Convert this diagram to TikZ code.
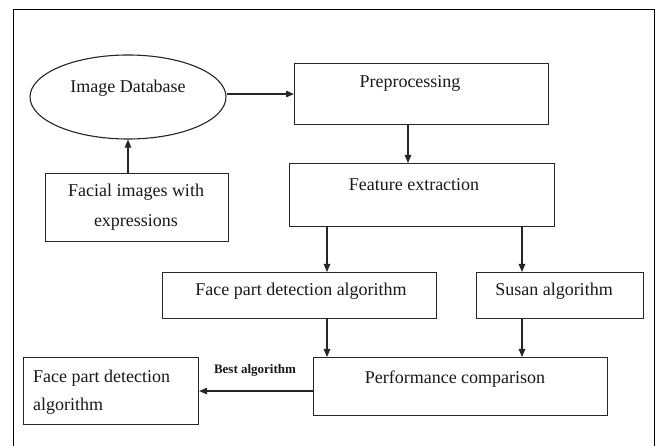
\documentclass[tikz,border=0pt]{standalone}
\usepackage{fontspec}
\setmainfont{Liberation Serif}
\usetikzlibrary{shapes.geometric,arrows.meta,calc}
\begin{document}
\begin{tikzpicture}[x=1pt,y=-1pt,
  box/.style={draw=black!85, line width=1.1pt, inner sep=0pt, anchor=north west},
  txt/.style={inner sep=0pt, anchor=base, font=\fontsize{18}{20}\selectfont, text=black!90},
  arr/.style={line width=1.1pt, draw=black!85, -{Triangle[length=8pt,width=6.5pt]}}]
\useasboundingbox (0,0) rectangle (657,446);
\fill[white] (0,0) rectangle (657,446);
\draw[line width=0.9pt] (13,446) -- (13,9) -- (654,9) -- (654,446);
% boxes
\node[draw=black!85, line width=1.1pt, ellipse, minimum width=196pt, minimum height=84pt, inner sep=0pt] (db) at (128,97) {};
\node[box, minimum width=183pt, minimum height=68pt] (facial) at (45,173) {};
\node[box, minimum width=254pt, minimum height=61pt] (pre) at (294,63) {};
\node[box, minimum width=265pt, minimum height=63pt] (feat) at (289,163) {};
\node[box, minimum width=274pt, minimum height=46pt] (fpd) at (162,272) {};
\node[box, minimum width=167pt, minimum height=46pt] (susan) at (476,272) {};
\node[box, minimum width=294pt, minimum height=58pt] (perf) at (313,357) {};
\node[box, minimum width=175pt, minimum height=67pt] (out) at (23,357) {};
% texts
\node[txt] (tdb) at (128,93) {Image Database};
\node[txt] (tf1) at (136,197) {Facial images with};
\node[txt] (tf2) at (136,227) {expressions};
\node[txt] (tpre) at (410,88) {Preprocessing};
\node[txt] (tfeat) at (414,191) {Feature extraction};
\node[txt] (tfpd) at (301,296) {Face part detection algorithm};
\node[txt] (tsus) at (554,296) {Susan algorithm};
\node[txt] (tperf) at (455,384) {Performance comparison};
\node[txt, anchor=base west] (to1) at (33,383) {Face part detection};
\node[txt, anchor=base west] (to2) at (33,411) {algorithm};
\node[inner sep=0pt, anchor=base, font=\fontsize{13}{15}\selectfont\bfseries, text=black!90] (tbest) at (255,374) {Best algorithm};
% connectors
\coordinate (c0) at (408,0);
\coordinate (c1) at (327,0);
\coordinate (c2) at (522,0);
\draw[arr] (facial.north -| db.south) -- (db.south);
\draw[arr] (db.east |- pre.west) -- (pre.west);
\draw[arr] (pre.south -| c0) -- (feat.north -| c0);
\draw[arr] (feat.south -| c1) -- (fpd.north -| c1);
\draw[arr] (feat.south -| c2) -- (susan.north -| c2);
\draw[arr] (fpd.south -| c1) -- (perf.north -| c1);
\draw[arr] (susan.south -| c2) -- (perf.north -| c2);
\draw[arr] (perf.west |- out.east) -- (out.east);
\end{tikzpicture}
\end{document}
